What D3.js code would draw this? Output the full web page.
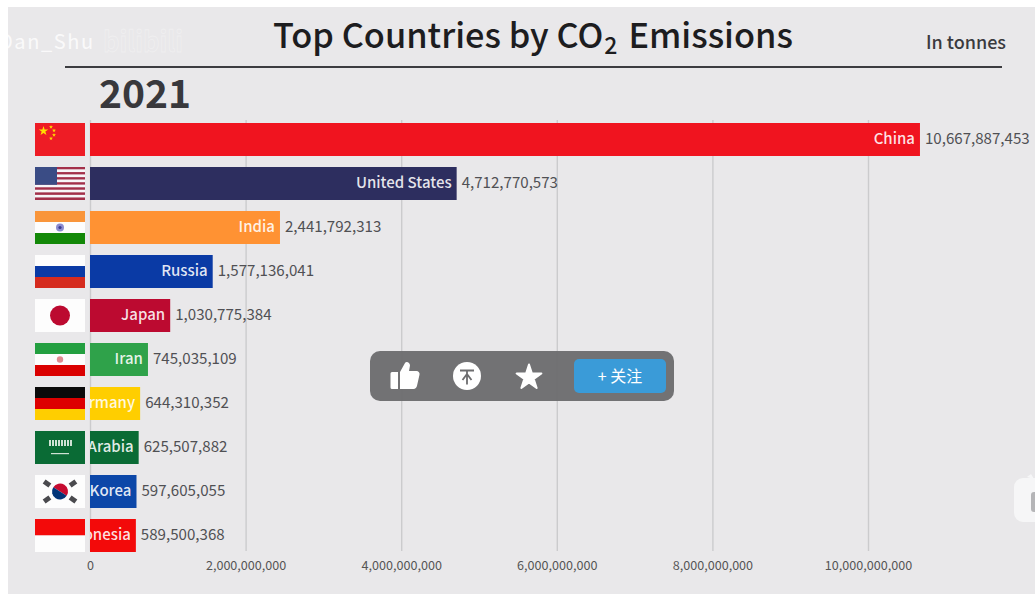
<!DOCTYPE html>
<html>
<head>
<meta charset="utf-8">
<script src="https://cdn.jsdelivr.net/npm/d3@7"></script>
<style>
html,body{margin:0;padding:0;background:#fff;overflow:hidden}
svg{display:block}
text{font-family:"Noto Sans CJK SC","Noto Sans",sans-serif}
</style>
</head>
<body>
<svg id="chart" width="1035" height="594"></svg>
<script>
// Emissions for the ten largest emitters, 2021
const year = "2021";
const countries = ["China","United States","India","Russia","Japan","Iran","Germany","Saudi Arabia","South Korea","Indonesia"];
const emissions = [10667887453,4712770573,2441792313,1577136041,1030775384,745035109,644310352,625507882,597605055,589500368];
const barColors = ["#f0141f","#2d2e5f","#ff9233","#0a3aa5","#bc0a30","#2fa24a","#ffce00","#0a6b35","#0c47a8","#f30a0a"];
const tickValues = [0,2e9,4e9,6e9,8e9,10e9];

const svg = d3.select("#chart");
const x = d3.scaleLinear().domain([0,1e10]).range([90,868]);
const y = d3.scaleBand().domain(countries).range([123,552]).paddingInner(0.25).paddingOuter(0).align(0);
const fmt = d3.format(",");

// Page panel
svg.append("rect").attr("x",8).attr("y",7).attr("width",1027).attr("height",587).attr("fill","#e9e8ea");

// Channel watermark
svg.append("text").attr("x",-1).attr("y",49).attr("font-size",20).attr("letter-spacing",1.6)
  .attr("fill","#fff").attr("fill-opacity",.8).text("Dan_Shu");
svg.append("rect").attr("x",0).attr("y",7).attr("width",8).attr("height",60).attr("fill","#fff");
svg.append("text").attr("x",103).attr("y",52).attr("font-size",28).attr("font-weight",700)
  .attr("textLength",80).attr("lengthAdjust","spacingAndGlyphs")
  .attr("fill","none").attr("stroke","#fff").attr("stroke-opacity",.3).attr("stroke-width",.8).text("bilibili");

// Title block
const title = svg.append("text").attr("x",273).attr("y",48).attr("font-size",34.3).attr("font-weight",500).attr("fill","#1d1d1f");
title.append("tspan").text("Top Countries by CO");
title.append("tspan").attr("font-size",23).attr("dy",6).attr("dx",1).text("2");
title.append("tspan").attr("dy",-6).attr("dx",11).text("Emissions");
svg.append("text").attr("x",1006).attr("y",49).attr("text-anchor","end").attr("font-size",18).attr("font-weight",500).attr("fill","#3a3a3e").text("In tonnes");
svg.append("line").attr("x1",65).attr("x2",1002).attr("y1",67).attr("y2",67).attr("stroke","#3c3c40").attr("stroke-width",2.2);
svg.append("text").attr("x",99).attr("y",108).attr("font-size",39).attr("font-weight",700).attr("fill","#38383c").text(year);

// Value axis with full-height gridlines
const axis = svg.append("g").attr("transform","translate(0,551)")
  .call(d3.axisBottom(x).tickValues(tickValues).tickFormat(fmt).tickSizeInner(-431).tickSizeOuter(0).tickPadding(10));
axis.select(".domain").remove();
axis.selectAll("line").attr("stroke","#cbcbcd").attr("stroke-width",1.4);
axis.selectAll("text").attr("font-size",12.6).attr("fill","#555").attr("font-family","'Noto Sans CJK SC','Noto Sans',sans-serif");

// Bars
svg.selectAll("rect.bar").data(countries).join("rect").attr("class","bar")
  .attr("x",x(0)).attr("y",d=>y(d)).attr("height",y.bandwidth())
  .attr("width",(d,i)=>x(emissions[i])-x(0)).attr("fill",(d,i)=>barColors[i]);

// Country names sit inside the bar end and are cut off at the baseline
svg.append("clipPath").attr("id","bars-clip").append("rect").attr("x",x(0)).attr("y",100).attr("width",950).attr("height",470);
svg.append("g").attr("clip-path","url(#bars-clip)").selectAll("text").data(countries).join("text")
  .attr("x",(d,i)=>x(emissions[i])-5).attr("y",d=>y(d)+y.bandwidth()/2-1).attr("dy",".35em")
  .attr("text-anchor","end").attr("font-size",15).attr("font-weight",500).attr("fill","#fff").attr("fill-opacity",.88).text(d=>d);

// Value labels
svg.selectAll("text.value").data(countries).join("text").attr("class","value")
  .attr("x",(d,i)=>x(emissions[i])+5).attr("y",d=>y(d)+y.bandwidth()/2-1).attr("dy",".35em")
  .attr("font-size",15.1).attr("fill","#505054").text((d,i)=>fmt(emissions[i]));

// Flags: each one is drawn in a 50 by 33 box
const starPath = d3.symbol().type(d3.symbolStar);
const stripes = (g,cols)=>cols.forEach((c,i)=>g.append("rect").attr("y",33/cols.length*i).attr("width",50).attr("height",33/cols.length).attr("fill",c));
const flags = {
  "China":g=>{
    stripes(g,["#ee1c25"]);
    g.append("path").attr("d",starPath.size(28)()).attr("transform","translate(8.5,8)").attr("fill","#ffde00");
    [[16,4],[19,7.5],[19,12],[16,15.5]].forEach(p=>g.append("path").attr("d",starPath.size(5)()).attr("transform",`translate(${p})`).attr("fill","#ffde00"));
  },
  "United States":g=>{
    d3.range(13).forEach(i=>g.append("rect").attr("y",i*33/13).attr("width",50).attr("height",33/13).attr("fill",i%2?"#f7f6f8":"#a3304a"));
    g.append("rect").attr("width",22).attr("height",17.8).attr("fill","#3a4c85");
  },
  "India":g=>{
    stripes(g,["#f9953a","#fdfdfd","#138808"]);
    g.append("circle").attr("cx",25).attr("cy",16.5).attr("r",4).attr("fill","#8c8cd0");
    g.append("circle").attr("cx",25).attr("cy",16.5).attr("r",1.6).attr("fill","#3a3a90");
  },
  "Russia":g=>stripes(g,["#fdfdfd","#0a3aa5","#d52b1e"]),
  "Japan":g=>{stripes(g,["#fdfdfd"]);g.append("circle").attr("cx",25).attr("cy",16.5).attr("r",10).attr("fill","#bc0a30");},
  "Iran":g=>{
    stripes(g,["#239f40","#fdfdfd","#da0000"]);
    g.append("circle").attr("cx",25).attr("cy",16.5).attr("r",3.2).attr("fill","#e08a90");
  },
  "Germany":g=>stripes(g,["#0a0a0a","#dd0000","#ffce00"]),
  "Saudi Arabia":g=>{
    stripes(g,["#0a6b35"]);
    g.append("line").attr("x1",14).attr("x2",37).attr("y1",12).attr("y2",12).attr("stroke","#cfe2d4").attr("stroke-width",6).attr("stroke-dasharray","2 1");
    g.append("rect").attr("x",16).attr("y",22).attr("width",18).attr("height",1.2).attr("fill","#cfe2d4");
  },
  "South Korea":g=>{
    stripes(g,["#fdfdfd"]);
    const c=g.append("g").attr("transform","translate(25,16.5) rotate(33)");
    c.append("path").attr("d",d3.arc()({innerRadius:0,outerRadius:8,startAngle:-Math.PI/2,endAngle:Math.PI/2})).attr("fill","#c60c30");
    c.append("path").attr("d",d3.arc()({innerRadius:0,outerRadius:8,startAngle:Math.PI/2,endAngle:Math.PI*1.5})).attr("fill","#003478");
    [[-13,-8],[13,-8],[-13,8],[13,8]].forEach(p=>g.append("rect").attr("x",-3.5).attr("y",-2.5).attr("width",7).attr("height",5)
      .attr("transform",`translate(${25+p[0]},${16.5+p[1]}) rotate(${p[0]*p[1]>0?35:-35})`).attr("fill","#4a4a4e"));
  },
  "Indonesia":g=>stripes(g,["#f30a0a","#fdfdfd"])
};
svg.selectAll("g.flag").data(countries).join("g").attr("class","flag")
  .attr("transform",d=>`translate(35,${y(d)})`).each(function(d){flags[d](d3.select(this));});

// Video player action bar
const bar = svg.append("g");
bar.append("rect").attr("x",370).attr("y",351).attr("width",304).attr("height",50).attr("rx",10).attr("fill","#6d6d6f").attr("fill-opacity",.97);
// thumb
bar.append("path").attr("fill","#fff").attr("d","M392 372h6v17h-6a1.500 1.500 0 0 1-1.500-1.500v-14a1.500 1.500 0 0 1 1.500-1.500z M400 372l5-9c1-2 5-1 5 2.500l-1 5.500h7.500c2 0 3.500 1.800 3 3.800l-2.500 11c-.4 1.700-1.600 3.200-3.500 3.200h-13.500z");
// coin
bar.append("circle").attr("cx",467).attr("cy",376).attr("r",14).attr("fill","#fff");
bar.append("path").attr("fill","none").attr("stroke","#6d6d6f").attr("stroke-width",1.8)
  .attr("d","M460 370.500h14 M467 370.500v14 M467 374l-4.500 6 M467 374l4.500 6");
// star
bar.append("path").attr("d",d3.symbol().type(d3.symbolStar).size(190)()).attr("transform","translate(529,377.500)")
  .attr("fill","#fff").attr("stroke","#fff").attr("stroke-width",2).attr("stroke-linejoin","round");
// follow button
bar.append("rect").attr("x",574).attr("y",359).attr("width",92).attr("height",34).attr("rx",5).attr("fill","#3a9bd8");
bar.append("text").attr("x",620).attr("y",382).attr("text-anchor","middle").attr("font-size",16)
  .attr("fill","#fff").text("+ 关注");

// Floating widget at the right edge
const widget = svg.append("g");
widget.append("path").attr("d","M1027 477l4-3 3 5z").attr("fill","#f6f6f7");
widget.append("rect").attr("x",1014).attr("y",478).attr("width",40).attr("height",44).attr("rx",9).attr("fill","#f6f6f7");
widget.append("rect").attr("x",1031).attr("y",492).attr("width",10).attr("height",20).attr("rx",3).attr("fill","#b5b5b7");
</script>
</body>
</html>
